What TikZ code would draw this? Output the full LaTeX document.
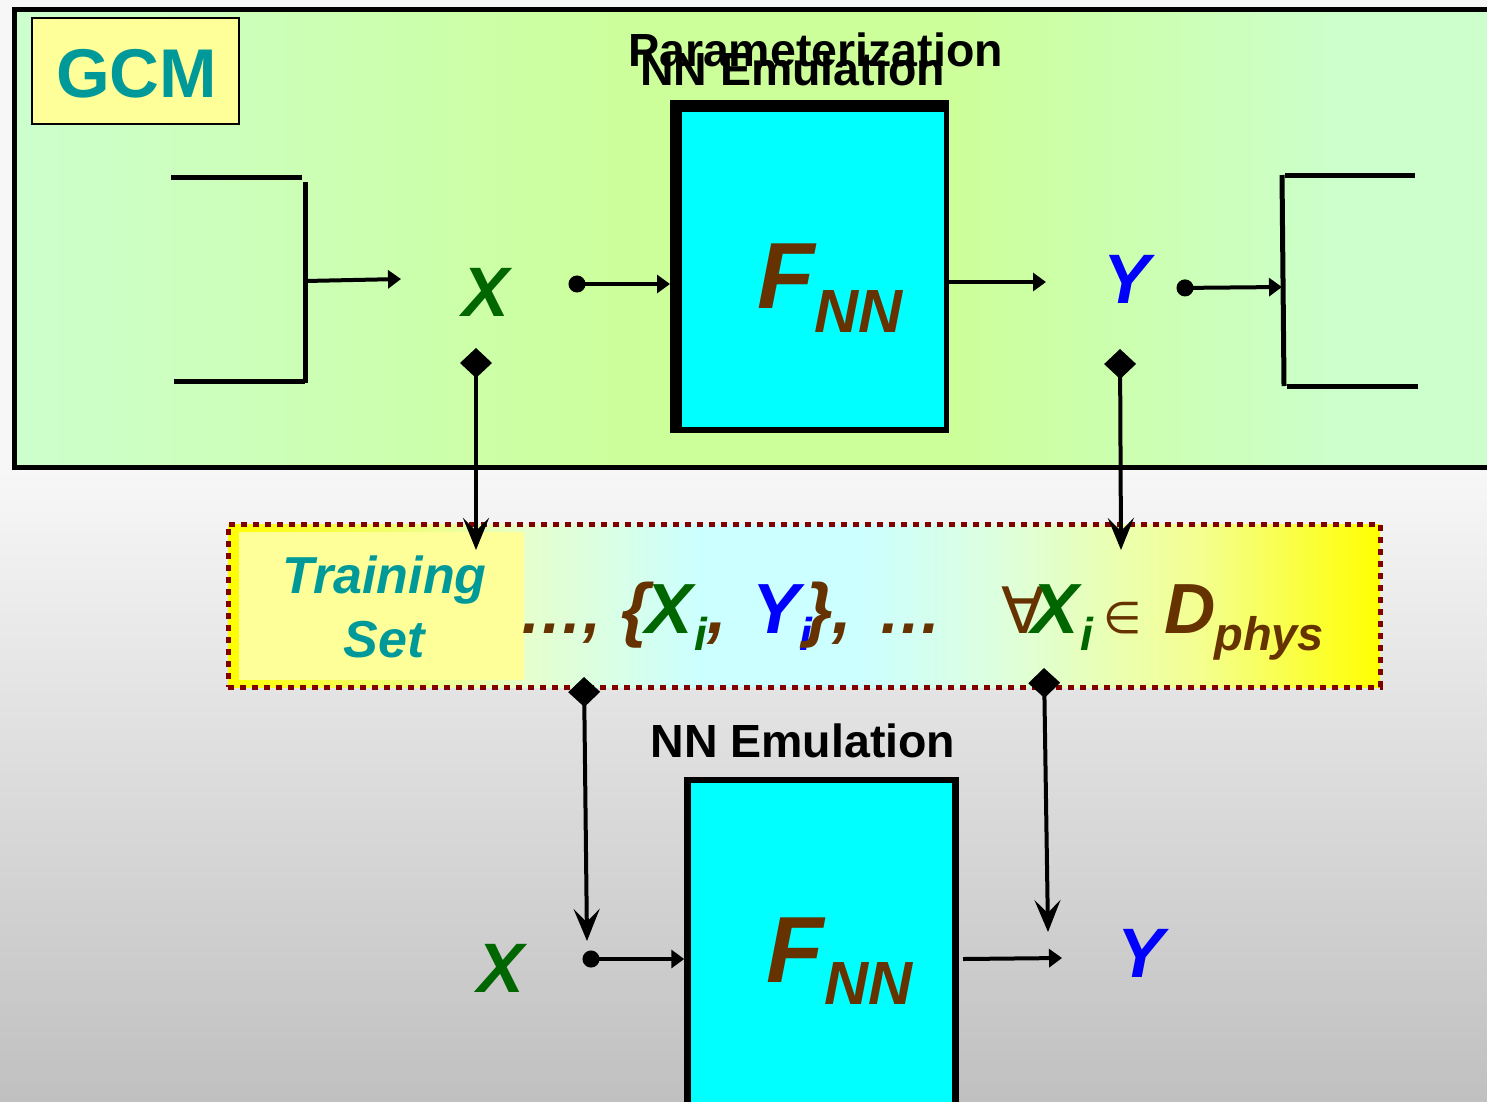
\documentclass[tikz,border=0pt]{standalone}
\usepackage{fontspec}
\setmainfont{Liberation Sans}
\newfontfamily\symfont{DejaVu Sans}
\usetikzlibrary{arrows.meta}

\definecolor{gcmteal}{HTML}{009999}
\definecolor{xgreen}{HTML}{006600}
\definecolor{yblue}{HTML}{0000FF}
\definecolor{fbrown}{HTML}{663300}
\definecolor{dotred}{HTML}{800000}
\definecolor{paleyellow}{HTML}{FFFF99}
\definecolor{boxcyan}{HTML}{00FFFF}
\definecolor{gcmL}{HTML}{CCFFCC}
\definecolor{gcmM}{HTML}{CCFF99}
\definecolor{bgtop}{HTML}{F7F7F7}
\definecolor{bgbot}{HTML}{C0C0C0}
\definecolor{bandY}{HTML}{FFFF00}
\definecolor{bandA}{HTML}{E6FFCC}
\definecolor{bandC}{HTML}{CCFFFF}
\definecolor{bandB}{HTML}{DDFFDD}
\definecolor{bandD}{HTML}{F4FF90}

\newcommand{\fsz}[1]{\fontsize{#1pt}{#1pt}\selectfont}

\begin{document}
\begin{tikzpicture}[x=1pt,y=-1pt,
  plain/.style={inner sep=0pt, outer sep=0pt},
  title/.style={plain, anchor=base, font=\bfseries\fsz{46.5}},
  varlabel/.style={plain, anchor=base, font=\bfseries\itshape\fsz{70}},
  expr/.style={plain, anchor=base west, font=\bfseries\itshape},
  fbig/.style={plain, anchor=base west, text=fbrown, font=\bfseries\itshape\fsz{94}},
  fsub/.style={plain, anchor=base west, text=fbrown, font=\bfseries\itshape\fsz{61}},
  bracket/.style={line width=5pt},
  flowarrow/.style={line width=4pt, -{Triangle[length=13pt,width=18pt]}},
  dotarrow/.style={line width=4pt, {Circle[length=17pt]}-{Triangle[length=13pt,width=18pt]}},
  taparrow/.style={line width=4pt, {Diamond[length=30pt,width=32pt]}-{Stealth[length=32pt,width=26pt,inset=13pt]}}
]
\useasboundingbox (0,0) rectangle (1487,1101);
\clip (0,0) rectangle (1487,1101);

% backdrop
\fill[bgtop] (0,0) rectangle (1487,471);
\shade[top color=bgtop, bottom color=bgbot] (0,470) rectangle (1487,1101);

% GCM frame with a yellow-green centre
\shade[left color=gcmL, right color=gcmM] (14,9) rectangle (650.5,467);
\fill[gcmM] (650,9) rectangle (950.5,467);
\shade[left color=gcmM, right color=gcmL] (950,9) rectangle (1350.5,467);
\fill[gcmL] (1350,9) rectangle (1500,467);
\node[draw, line width=5pt, minimum width=1486pt, minimum height=458pt] (gcmframe) at (757,238) {};
\node[draw, line width=2pt, fill=paleyellow, minimum width=207pt, minimum height=106pt] (gcmtag) at (135.5,71) {};
\node[plain, anchor=base, text=gcmteal, font=\bfseries\fsz{69}] (gcmtext) at (136.5,97) {GCM};

% titles
\node[title] (paramtitle) at (815.5,66) {Parameterization};
\node[title] (emutop) at (792.5,85) {NN Emulation};

% parameterization emulator block: heavy black frame, cyan core
\node[plain, fill=black, minimum width=279pt, minimum height=333pt] (fnntop) at (809.5,266.5) {};
\node[plain, fill=boxcyan, minimum width=262pt, minimum height=315pt] (fnntopcore) at (813,269.5) {};
\node[fbig] (ftop) at (757,308) {F};
\node[fsub] (nntop) at (814,332) {NN};

% left bracket
\draw[bracket] (171,177) -- (302,177);
\draw[bracket] (305,182) -- (305,383);
\draw[bracket] (174,381) -- (305,381);
\coordinate (lbout) at (305,281);
\coordinate (xintop) at (401,279);
\draw[flowarrow] (lbout) -- (xintop);

% right bracket
\draw[bracket] (1282,175) -- (1284,386);
\draw[bracket] (1285,175) -- (1415,175);
\draw[bracket] (1287,386) -- (1418,386);
\coordinate (rbin) at (1282,287);

% top variables
\node[varlabel, text=xgreen] (xtop) at (486,316) {X};
\node[varlabel, text=yblue] (ytop) at (1127,303) {Y};
\coordinate (xdottop) at (568.5,284);
\coordinate (ydottop) at (1176.5,288);
\coordinate (yintop) at (1046,282);
\draw[dotarrow] (xdottop) -- (xdottop -| fnntop.west);
\draw[flowarrow] (fnntop.east |- yintop) -- (yintop);
\draw[dotarrow] (ydottop) -- (rbin);

% training set band
\shade[left color=bandY, right color=bandA] (228,524) rectangle (524.5,687);
\shade[left color=bandA, right color=bandC] (524,524) rectangle (700.5,687);
\fill[bandC] (700,524) rectangle (860.5,687);
\shade[left color=bandC, right color=bandB] (860,524) rectangle (1000.5,687);
\shade[left color=bandB, right color=bandD] (1000,524) rectangle (1200.5,687);
\shade[left color=bandD, right color=bandY] (1200,524) rectangle (1380,687);
\node[plain, fill=paleyellow, minimum width=285pt, minimum height=148pt] (tsettag) at (381.5,606) {};
\node[draw=dotred, line width=5pt, dash pattern=on 6pt off 6pt,
      minimum width=1152pt, minimum height=163pt] (tset) at (804,605.5) {};

\node[plain, anchor=base, text=gcmteal, font=\bfseries\itshape\fsz{52}] (trainword) at (384.5,593) {Training};
\node[plain, anchor=base, text=gcmteal, font=\bfseries\itshape\fsz{52}] (setword) at (384,657) {Set};

\node[expr, text=fbrown] (e1) at (519,633) {\fsz{64}…,};
\node[expr, text=fbrown] (e2) at (621,633) {\fsz{71}\{};
\node[expr, text=xgreen] (e3) at (645,633) {\fsz{71}X\kern2pt\raisebox{-17pt}{\fsz{46}i}};
\node[expr, text=fbrown] (e4) at (707,633) {\fsz{71},};
\node[expr, text=yblue] (e5) at (752,633) {\fsz{71}Y\raisebox{-17pt}{\fsz{46}i}};
\node[expr, text=fbrown] (e6) at (805,633) {\fsz{71}\},\hspace{26pt}{\fsz{64}…}};
\node[plain, anchor=base west, text=fbrown, font=\symfont\fsz{64}] (e7) at (1001,633) {∀};
\node[expr, text=xgreen] (e8) at (1031,633) {\fsz{71}X\kern2pt\raisebox{-17pt}{\fsz{46}i}};
\node[plain, anchor=base west, text=fbrown, font=\symfont\fsz{44}] (e9) at (1103,633) {∈};
\node[expr, text=fbrown] (e10) at (1164,633) {\fsz{71}D\kern-1pt\raisebox{-17pt}{\fsz{47}phys}};

% taps between GCM and training set
\coordinate (xtaptop) at (476,348);
\coordinate (xsetin) at (476,550);
\coordinate (ytaptop) at (1120,349);
\coordinate (ysetin) at (1121,550);
\draw[taparrow] (xtaptop) -- (xsetin);
\draw[taparrow] (ytaptop) -- (ysetin);

% stand-alone emulation
\node[title] (emubot) at (803,757) {NN Emulation};
\node[draw, line width=6.5pt, fill=boxcyan, minimum width=268pt, minimum height=400pt] (fnnbot) at (821.5,980) {};
\node[fbig] (fbot) at (766,982) {F};
\node[fsub] (nnbot) at (824,1004) {NN};

\node[varlabel, text=xgreen] (xbot) at (501,992) {X};
\node[varlabel, text=yblue] (ybot) at (1141,977) {Y};
\coordinate (xdotbot) at (582.5,959);
\coordinate (youtbot) at (963,959);
\coordinate (yinbot) at (1062,958);
\draw[dotarrow] (xdotbot) -- (xdotbot -| fnnbot.west);
\draw[flowarrow] (youtbot) -- (yinbot);

\coordinate (xtapbot) at (584,677);
\coordinate (xbotin) at (587,941);
\coordinate (ytapbot) at (1044,668);
\coordinate (ybotin) at (1048,932);
\draw[taparrow] (xtapbot) -- (xbotin);
\draw[taparrow] (ytapbot) -- (ybotin);
\end{tikzpicture}
\end{document}
